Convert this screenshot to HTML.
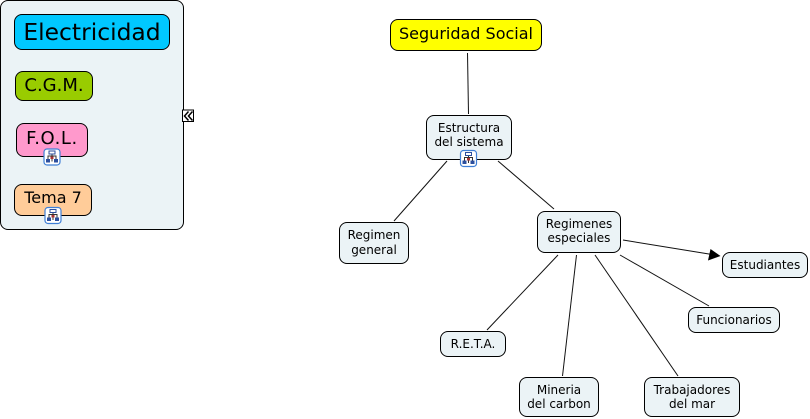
<!DOCTYPE html>
<html><head><meta charset="utf-8">
<style>
html,body{margin:0;padding:0;background:#fff;width:810px;height:419px;overflow:hidden}
body{position:relative;font-family:"DejaVu Sans","Liberation Sans",sans-serif;color:#000}
.n{position:absolute;box-sizing:border-box;border:1px solid #000;background:#ebf3f6;border-radius:8px;display:flex;align-items:center;justify-content:center;text-align:center;font-size:12px;line-height:14.5px;white-space:nowrap}
svg{position:absolute;left:0;top:0}
</style></head><body>
<div class="n" style="left:0;top:0;width:184px;height:230px"></div>
<div class="n" style="left:14px;top:14px;width:156px;height:36px;background:#00c8ff;font-size:23.4px">Electricidad</div>
<div class="n" style="left:15px;top:71px;width:78px;height:30px;background:#99cc00;font-size:18px">C.G.M.</div>
<div class="n" style="left:16px;top:123px;width:72px;height:34px;background:#ff99cc;font-size:18px;letter-spacing:.6px;padding-bottom:2px">F.O.L.</div>
<div class="n" style="left:14px;top:184px;width:78px;height:32px;background:#ffcc99;font-size:16px;padding-bottom:3px">Tema 7</div>
<div class="n" style="left:390px;top:19px;width:152px;height:32px;background:#ffff00;font-size:16px;padding-bottom:1px">Seguridad Social</div>
<div class="n" style="left:426px;top:115px;width:86px;height:45px;padding-bottom:5px">Estructura<br>del sistema</div>
<div class="n" style="left:339px;top:222px;width:70px;height:42px;padding-bottom:1px">Regimen<br>general</div>
<div class="n" style="left:537px;top:211px;width:84px;height:42px;padding-bottom:2px">Regimenes<br>especiales</div>
<div class="n" style="left:440px;top:331px;width:66px;height:26px">R.E.T.A.</div>
<div class="n" style="left:519px;top:377px;width:80px;height:40px">Mineria<br>del carbon</div>
<div class="n" style="left:644px;top:377px;width:96px;height:40px">Trabajadores<br>del mar</div>
<div class="n" style="left:688px;top:307px;width:92px;height:26px">Funcionarios</div>
<div class="n" style="left:722px;top:252px;width:86px;height:26px">Estudiantes</div>
<svg width="810" height="419" viewBox="0 0 810 419">
<defs>
<g id="ic">
<rect x="0.5" y="0.5" width="16" height="16" rx="3" fill="#fff" stroke="#3f7fd6" stroke-width="1.2"/>
<path d="M8.5 5V9M4.5 11V7.5H12.5V11M8.5 9V13" stroke="#333" fill="none"/>
<rect x="5.5" y="2.5" width="6" height="3" fill="#fff" stroke="#2c4f9e"/>
<rect x="2.5" y="10.5" width="4" height="3.5" fill="#2c4f9e"/>
<rect x="10.5" y="10.5" width="4" height="3.5" fill="#2c4f9e"/>
<rect x="7" y="8" width="3" height="2.5" fill="#a33"/>
</g>
</defs>
<g stroke="#111" stroke-width="1" fill="none">
<path d="M467.5 53L468.5 114"/>
<path d="M447 161L394 221"/>
<path d="M498 161L554 209"/>
<path d="M558 255L487 330"/>
<path d="M576.5 255L562.5 376"/>
<path d="M595 255L678 376"/>
<path d="M620 255L709 306"/>
<path d="M623 240L712 254.5"/>
</g>
<path d="M720.5 256L710.5 249L708 260.5Z" fill="#000"/>
<use href="#ic" x="43.5" y="148.5"/>
<use href="#ic" x="44.5" y="207"/>
<use href="#ic" x="460" y="150"/>
<rect x="182.5" y="110" width="11" height="11.5" fill="#fff" stroke="#000"/>
<path d="M188.5 111.5L184.5 116L188.5 120.5M192.5 111.5L188.5 116L192.5 120.5" fill="none" stroke="#000" stroke-width="1.5"/>
</svg>
</body></html>
